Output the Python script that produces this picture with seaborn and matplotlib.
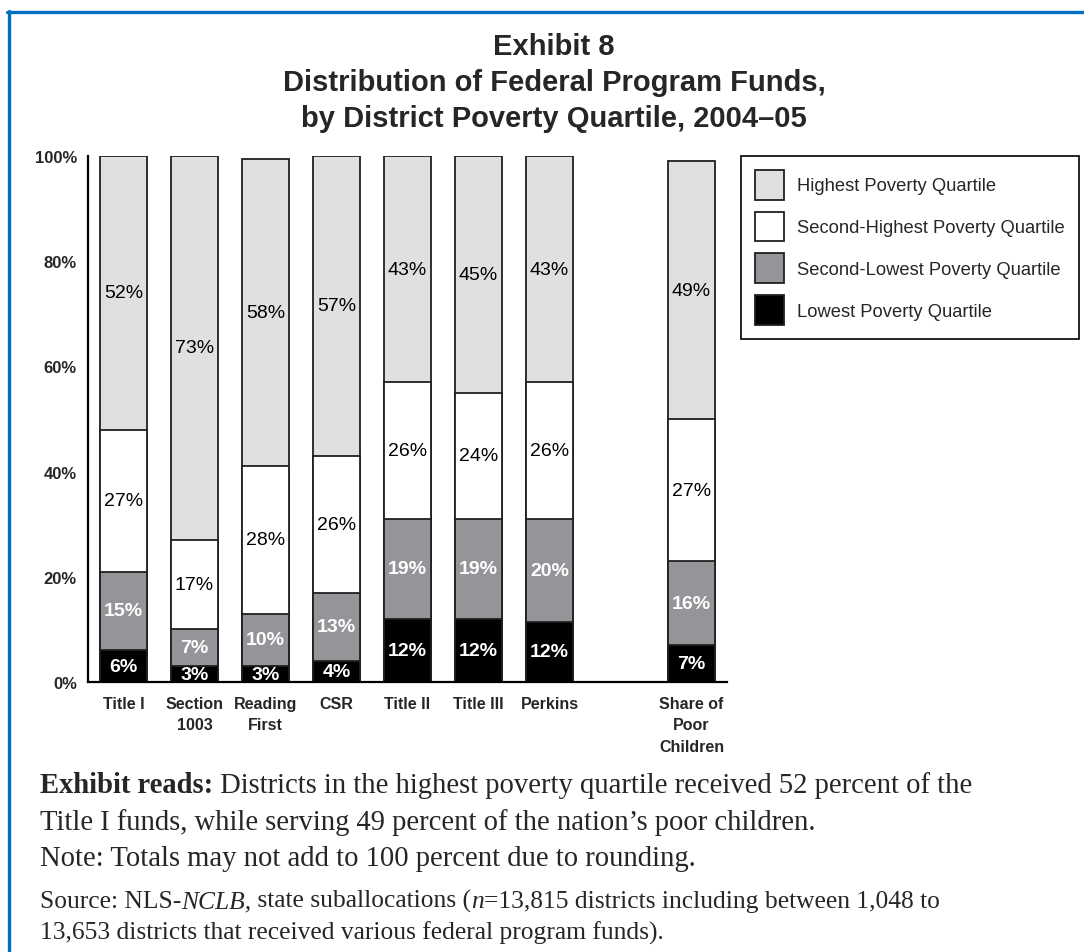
import pandas as pd
import numpy as np
import matplotlib
matplotlib.use("Agg")
import matplotlib.pyplot as plt
from matplotlib.patches import Patch
from matplotlib.lines import Line2D
import seaborn as sns

# Data (percent of funds by district poverty quartile)
programs = ["Title I", "Section\n1003", "Reading\nFirst", "CSR", "Title II",
            "Title III", "Perkins", "Share of\nPoor\nChildren"]
lowest = [6, 3, 3, 4, 12, 12, 11.5, 7]
second_lowest = [15, 7, 10, 13, 19, 19, 19.5, 16]
second_highest = [27, 17, 28, 26, 26, 24, 26, 27]
highest = [52, 73, 58.5, 57, 43, 45, 43, 49]
quartiles = ["Highest Poverty Quartile", "Second-Highest Poverty Quartile",
             "Second-Lowest Poverty Quartile", "Lowest Poverty Quartile"]
y_ticks = [0, 20, 40, 60, 80, 100]

colors = {"Lowest Poverty Quartile": "#000000",
          "Second-Lowest Poverty Quartile": "#939598",
          "Second-Highest Poverty Quartile": "#ffffff",
          "Highest Poverty Quartile": "#dfe0e2"}
edge = "#231f20"

sns.set_style("white")
plt.rcParams["font.family"] = ["Liberation Sans", "DejaVu Sans"]

df = pd.DataFrame({"program": programs, "lowest": lowest,
                   "second_lowest": second_lowest,
                   "second_highest": second_highest, "highest": highest})
df["c1"] = df["lowest"]
df["c2"] = df["c1"] + df["second_lowest"]
df["c3"] = df["c2"] + df["second_highest"]
df["c4"] = df["c3"] + df["highest"]

# empty slot before the last bar
order = programs[:7] + [" "] + programs[7:]

W, H = 1084, 953
fig = plt.figure(figsize=(W / 100, H / 100), dpi=100)
ax = fig.add_axes([88 / W, 1 - 683 / H, (727 - 88) / W, (683 - 157) / H])

layers = [("c4", "Highest Poverty Quartile"),
          ("c3", "Second-Highest Poverty Quartile"),
          ("c2", "Second-Lowest Poverty Quartile"),
          ("c1", "Lowest Poverty Quartile")]
for col, name in layers:
    sns.barplot(data=df, x="program", y=col, order=order, color=colors[name],
                saturation=1, width=0.65, errorbar=None, edgecolor=edge,
                linewidth=1.3, ax=ax)

# segment labels
for i, row in df.iterrows():
    xpos = order.index(row["program"])
    segs = [(0, row["c1"], row["lowest"], "white", "bold"),
            (row["c1"], row["c2"], row["second_lowest"], "white", "bold"),
            (row["c2"], row["c3"], row["second_highest"], "black", "normal"),
            (row["c3"], row["c4"], row["highest"], "black", "normal")]
    for lo, hi, v, c, w in segs:
        ax.text(xpos, (lo + hi) / 2, f"{int(round(v))}%", ha="center",
                va="center", color=c, fontweight=w, fontsize=14)

ax.set_xlim(-0.5, 8.5)
ax.set_ylim(0, 100)
ax.set_yticks(y_ticks)
ax.set_yticklabels([f"{t}%" for t in y_ticks], fontsize=12, fontweight="bold")
ax.set_xticks(range(len(order)))
ax.set_xticklabels(order, fontsize=11.5, fontweight="bold", linespacing=1.55,
                   va="top")
ax.tick_params(axis="both", length=0)
ax.tick_params(axis="y", pad=8)
ax.tick_params(axis="x", pad=10)
ax.set_xlabel("")
ax.set_ylabel("")
sns.despine(ax=ax)
for s in ["left", "bottom"]:
    ax.spines[s].set_linewidth(1.6)
    ax.spines[s].set_color("black")

handles = [Patch(facecolor=colors[q], edgecolor=edge, linewidth=1.3)
           for q in quartiles]
leg = fig.legend(handles, quartiles, loc="upper left",
                 bbox_to_anchor=(741 / W, 1 - 157 / H), fontsize=13.2,
                 handlelength=1.6, handleheight=2.12, labelspacing=0.66,
                 handletextpad=0.72, borderpad=0.75, borderaxespad=0,
                 fancybox=False, framealpha=1)
leg.get_frame().set_edgecolor("black")
leg.get_frame().set_linewidth(1.2)

fig.text(0.511, 1 - 83 / H,
         "Exhibit 8\nDistribution of Federal Program Funds,\n"
         "by District Poverty Quartile, 2004–05",
         ha="center", va="center", fontsize=21, fontweight="bold",
         linespacing=1.36)

# notes under the chart, written as runs of mixed styles on one baseline
serif = ["Liberation Serif", "DejaVu Serif"]
renderer = fig.canvas.get_renderer()


def text_width(s, size, **kw):
    t = fig.text(0, 0, s, fontsize=size, family=serif, **kw)
    w = t.get_window_extent(renderer).width
    t.remove()
    return w


def runs(y_px, parts, size):
    x = 40
    for s, kw in parts:
        fig.text(x / W, 1 - y_px / H, s, fontsize=size, family=serif,
                 va="baseline", **kw)
        x += text_width(s + "x", size, **kw) - text_width("x", size, **kw)


body = 20.6
small = 18.4
runs(793, [("Exhibit reads:", {"fontweight": "bold"}),
           (" Districts in the highest poverty quartile received 52 percent of the", {})],
     body)
runs(830, [("Title I funds, while serving 49 percent of the nation’s poor children.", {})],
     body)
runs(866, [("Note: Totals may not add to 100 percent due to rounding.", {})], body)
runs(908, [("Source: NLS-", {}), ("NCLB,", {"style": "italic"}),
           (" state suballocations (", {}), ("n", {"style": "italic"}),
           ("=13,815 districts including between 1,048 to", {})], small)
runs(940, [("13,653 districts that received various federal program funds).", {})],
     small)

# blue page frame
blue = "#0070c0"
fig.add_artist(Line2D([7 / W, 1], [1 - 13 / H, 1 - 13 / H],
                      color=blue, linewidth=2.4, transform=fig.transFigure))
fig.add_artist(Line2D([8.5 / W, 8.5 / W], [0, 1 - 12 / H],
                      color=blue, linewidth=2.4, transform=fig.transFigure))

fig.savefig("out.png", dpi=100)
